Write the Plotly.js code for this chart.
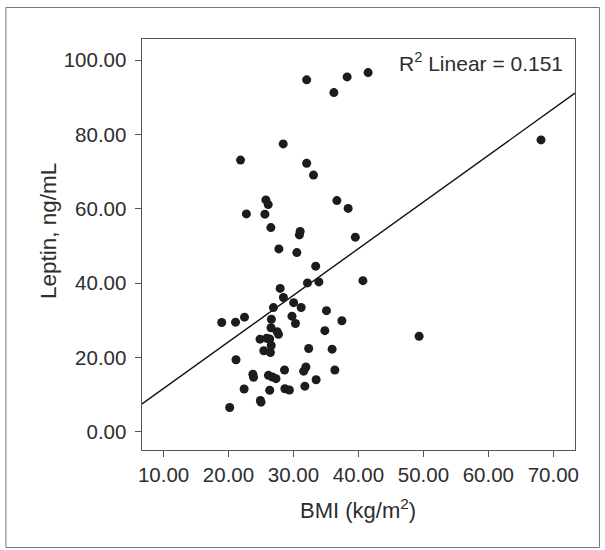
<!DOCTYPE html>
<html>
<head>
<meta charset="utf-8">
<script src="https://cdn.plot.ly/plotly-3.0.1.min.js"></script>
<style>html,body{margin:0;padding:0;background:#fff;}#chart{width:605px;height:550px;}</style>
</head>
<body>
<div id="chart"></div>
<script>
// BMI (kg/m2) per subject
const bmi = [32.03, 36.22, 38.26, 41.49, 68.11, 28.42, 21.85, 32.03, 33.08, 25.75,
  26.11, 36.68, 38.42, 22.75, 25.60, 26.52, 31.03, 30.91, 39.52, 27.75,
  30.52, 33.42, 27.95, 32.15, 33.91, 40.69, 28.45, 30.03, 26.91, 31.18,
  35.08, 18.95, 21.08, 22.46, 26.60, 29.77, 30.31, 26.54, 37.45, 27.49,
  27.69, 34.83, 24.85, 25.88, 26.34, 26.57, 25.43, 26.45, 32.34, 35.95,
  21.15, 28.62, 31.91, 31.57, 36.37, 23.75, 23.85, 26.14, 26.77, 27.31,
  22.40, 26.34, 28.68, 29.37, 31.75, 33.49, 24.91, 25.00, 20.18, 49.34];
// Leptin (ng/mL) per subject
const leptin = [94.70, 91.28, 95.50, 96.66, 78.54, 77.46, 73.10, 72.27, 69.06, 62.39,
  61.12, 62.20, 60.10, 58.62, 58.56, 54.93, 53.90, 52.96, 52.37, 49.19,
  48.20, 44.56, 38.56, 40.04, 40.31, 40.66, 36.13, 34.73, 33.41, 33.44,
  32.58, 29.40, 29.48, 30.83, 30.26, 31.10, 29.13, 27.97, 29.86, 26.93,
  26.22, 27.19, 24.91, 25.15, 24.96, 23.21, 21.78, 21.30, 22.40, 22.21,
  19.36, 16.61, 17.42, 16.29, 16.61, 15.48, 14.65, 15.16, 14.73, 14.27,
  11.50, 11.15, 11.55, 11.23, 12.25, 13.97, 8.40, 7.94, 6.52, 25.69];
// Linear fit line as drawn (intercept, slope) and axis spans
const fitIntercept = -0.92;
const fitSlope = 1.255;
const xRange = [6.68, 73.34];
const yRange = [-4.93, 105.7];
const xTicks = [10, 20, 30, 40, 50, 60, 70];
const yTicks = [0, 20, 40, 60, 80, 100];
const xTitle = 'BMI (kg/m<sup>2</sup>)';
const yTitle = 'Leptin, ng/mL';
const fitLabel = 'R<sup>2</sup> Linear = 0.151';

const fitX = xRange.slice();
const fitY = fitX.map(x => fitIntercept + fitSlope * x);

const fontFam = '"Liberation Sans", Arial, sans-serif';
const txt = '#2e2e2e';
const W = 605, H = 550;
const m = {l: 141.7, r: 30, t: 39, b: 100};
const pw = W - m.l - m.r, ph = H - m.t - m.b;
const px = v => (v - m.l) / pw;
const py = v => (H - m.b - v) / ph;

const traces = [
  {x: fitX, y: fitY, mode: 'lines', type: 'scatter', line: {color: '#111', width: 1.4}, hoverinfo: 'skip'},
  {x: bmi, y: leptin, mode: 'markers', type: 'scatter', marker: {color: '#1c1c1c', size: 9, line: {width: 0}}}
];

const layout = {
  width: W, height: H,
  margin: m,
  paper_bgcolor: '#fff', plot_bgcolor: '#fff',
  showlegend: false,
  font: {family: fontFam, color: txt, size: 20},
  xaxis: {
    range: xRange, tickvals: xTicks, ticktext: xTicks.map(v => v.toFixed(2)),
    ticks: 'outside', ticklen: 6, tickcolor: '#555', tickwidth: 1,
    showline: true, linecolor: '#555', linewidth: 1, mirror: true,
    showgrid: false, zeroline: false,
    tickfont: {family: fontFam, size: 20.5, color: txt}
  },
  yaxis: {
    range: yRange, tickvals: yTicks, ticktext: yTicks.map(v => v.toFixed(2)),
    ticks: 'outside', ticklen: 6.5, tickcolor: '#555', tickwidth: 1,
    showline: true, linecolor: '#555', linewidth: 1, mirror: true,
    showgrid: false, zeroline: false, ticklabelstandoff: 4,
    tickfont: {family: fontFam, size: 20.5, color: txt}
  },
  annotations: [
    {xref: 'paper', yref: 'paper', x: px(565), y: py(62), xanchor: 'right', yanchor: 'middle',
     text: fitLabel, showarrow: false, font: {family: fontFam, size: 21, color: txt}},
    {xref: 'paper', yref: 'paper', x: px(358.3), y: py(509), xanchor: 'center', yanchor: 'middle',
     text: xTitle, showarrow: false, font: {family: fontFam, size: 22, color: txt}},
    {xref: 'paper', yref: 'paper', x: px(48), y: py(230.6), xanchor: 'center', yanchor: 'middle',
     text: yTitle, textangle: -90, showarrow: false, font: {family: fontFam, size: 22.5, color: txt}}
  ],
  shapes: [{
    type: 'rect', xref: 'paper', yref: 'paper',
    x0: px(5.5), x1: px(599.5), y0: py(547.5), y1: py(7.5),
    line: {color: '#777', width: 1}, fillcolor: 'rgba(0,0,0,0)', layer: 'below'
  }]
};

Plotly.newPlot('chart', traces, layout, {staticPlot: true, displayModeBar: false});
</script>
</body>
</html>
